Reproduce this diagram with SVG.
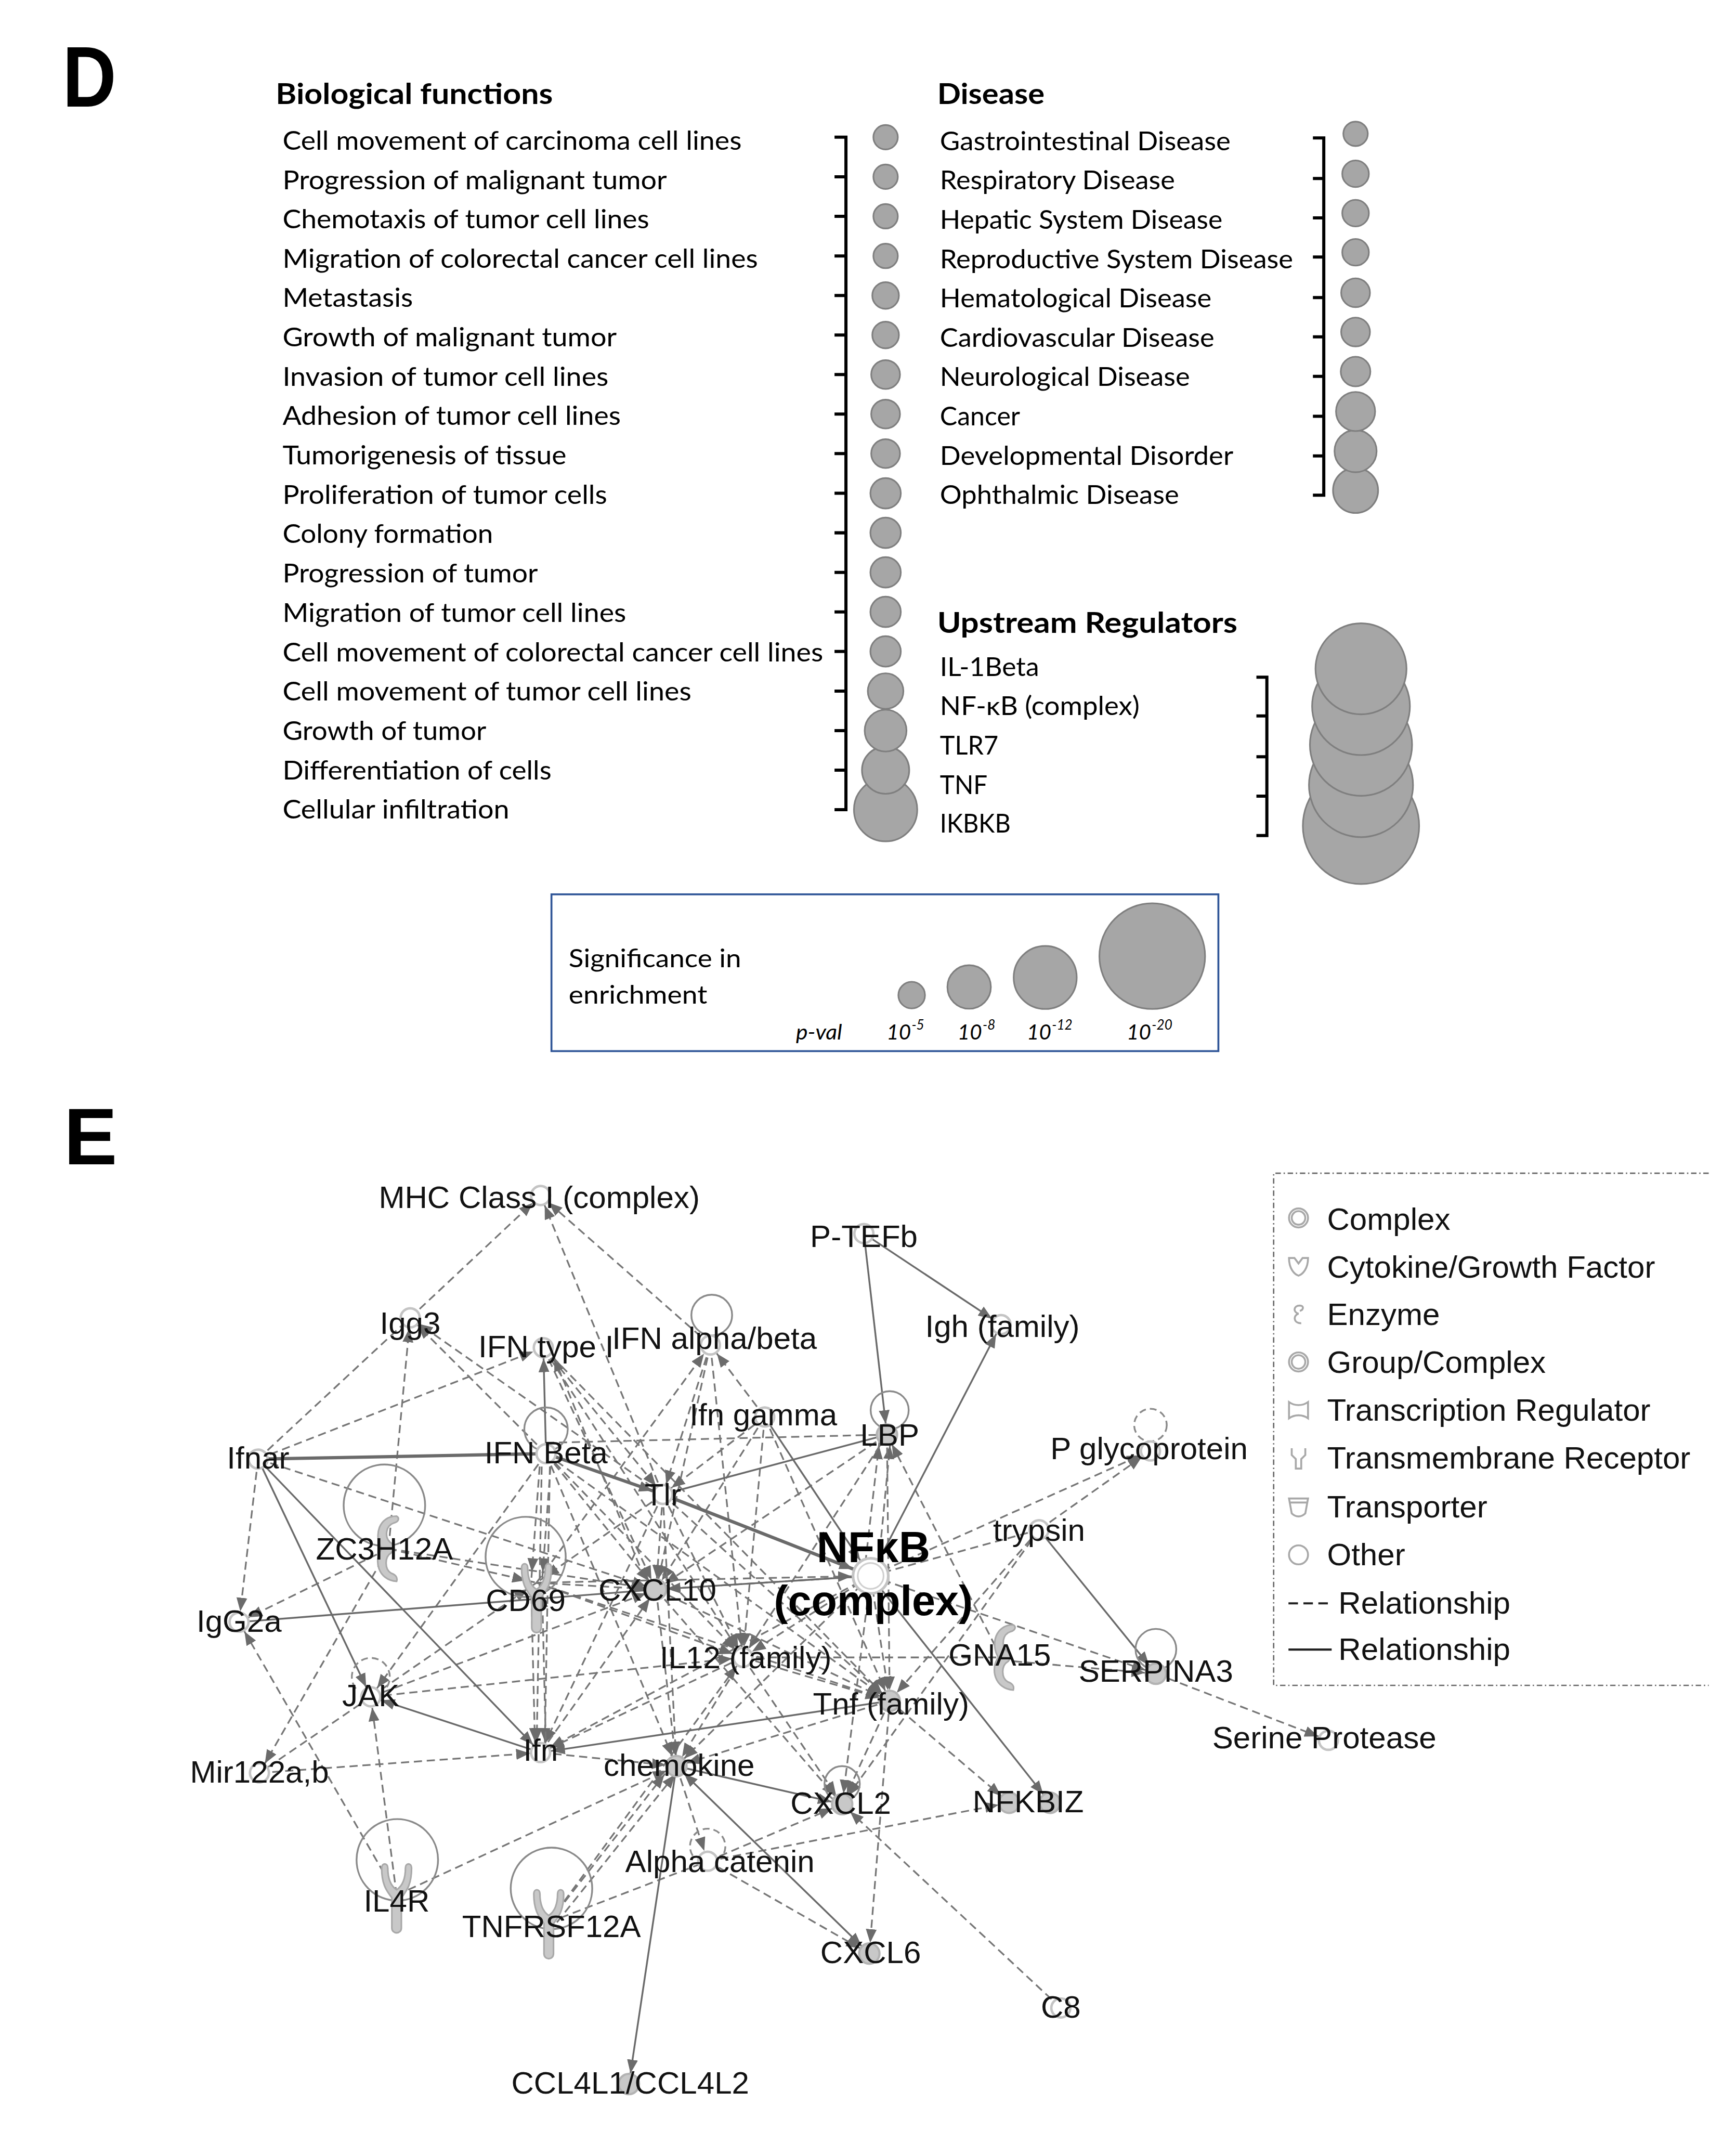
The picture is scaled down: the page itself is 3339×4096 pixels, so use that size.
<svg xmlns="http://www.w3.org/2000/svg" xmlns:xlink="http://www.w3.org/1999/xlink" width="3339" height="4096" viewBox="0 0 3339 4096">
<style>
.cal{font-family:Lato,"Open Sans",sans-serif;fill:#000}
.hd{font-family:Lato,"Open Sans",sans-serif;font-weight:700;font-size:21.5px;fill:#000}
.it{font-size:19.5px}
.pl{font-family:Lato,"Open Sans",sans-serif;font-style:italic;font-size:15.5px;fill:#000}
.dc{fill:#a6a6a6;stroke:#7f7f7f;stroke-width:1.2}
.br{fill:none;stroke:#000;stroke-width:2.3}
.d{fill:none;stroke:#767676;stroke-width:1.25;stroke-dasharray:6 3.5}
.s{fill:none;stroke:#6a6a6a;stroke-width:1.3}
.t{stroke-width:2.4}
.lp{fill:none;stroke:#8a8a8a;stroke-width:1.3}
.lpd{fill:none;stroke:#8a8a8a;stroke-width:1.3;stroke-dasharray:5 3}
.ic{fill:#fff;stroke:#c4c4c4;stroke-width:1.8}
.icg{fill:#c8c8c8;stroke:#b3b3b3;stroke-width:1.6}
.lb{font-family:"Liberation Sans",Arial,sans-serif;font-size:23px;fill:#111;text-anchor:middle}
.lg{font-family:"Liberation Sans",Arial,sans-serif;font-size:23px;fill:#111}
.li{fill:none;stroke:#a8a8a8;stroke-width:1.4}
.pn{font-family:"Liberation Sans",Arial,sans-serif;font-weight:700;fill:#000}
</style>
<defs>
<marker id="a" viewBox="0 0 10 8" refX="18" refY="4" markerWidth="10" markerHeight="8" markerUnits="userSpaceOnUse" orient="auto-start-reverse"><path d="M0,0L10,4L0,8z" fill="#6b6b6b"/></marker>
<marker id="an" viewBox="0 0 10 8" refX="24" refY="4" markerWidth="10" markerHeight="8" markerUnits="userSpaceOnUse" orient="auto"><path d="M0,0L10,4L0,8z" fill="#6b6b6b"/></marker>
<path id="yrec" d="M-11,-23 C-11,-9 -6,-5 -3.5,-1 L-3.5,21 C-3.5,26 3.5,26 3.5,21 L3.5,-1 C6,-5 11,-9 11,-23 C11,-27 6.5,-27 6.5,-23 C6.5,-13 3,-9 0,-7 C-3,-9 -6.5,-13 -6.5,-23 C-6.5,-27 -11,-27 -11,-23 Z" fill="#c8c8c8" stroke="#a9a9a9" stroke-width="1.2"/>
<path id="enz" d="M7,-24 C-6,-24 -10,-10 -4,0 C-10,8 -7,23 7,24 C8,21 6,19 3,18 C-2,15 -2,6 3,3 C6,0 5,-3 2,-5 C-2,-9 -1,-17 5,-19 C9,-20 9,-23 7,-24 Z" fill="#c8c8c8" stroke="#a9a9a9" stroke-width="1.2"/>
</defs>
<rect x="0" y="0" width="3339" height="4096" fill="#fff"/>
<g transform="scale(2.6125)">
<!-- ===== Panel D ===== -->
<g id="panel-D-label"><text class="pn" font-size="63" transform="translate(46,78.5) scale(0.87,1)">D</text></g>

<g id="bio-functions">
<text class="hd" x="203" y="76.5" textLength="204" lengthAdjust="spacingAndGlyphs">Biological functions</text>
<g class="cal it">
<text x="208" y="110.2" textLength="338" lengthAdjust="spacingAndGlyphs">Cell movement of carcinoma cell lines</text>
<text x="208" y="139.2" textLength="283" lengthAdjust="spacingAndGlyphs">Progression of malignant tumor</text>
<text x="208" y="168.1" textLength="270" lengthAdjust="spacingAndGlyphs">Chemotaxis of tumor cell lines</text>
<text x="208" y="197.1" textLength="350" lengthAdjust="spacingAndGlyphs">Migration of colorectal cancer cell lines</text>
<text x="208" y="226.0" textLength="96" lengthAdjust="spacingAndGlyphs">Metastasis</text>
<text x="208" y="255.0" textLength="246" lengthAdjust="spacingAndGlyphs">Growth of malignant tumor</text>
<text x="208" y="284.0" textLength="240" lengthAdjust="spacingAndGlyphs">Invasion of tumor cell lines</text>
<text x="208" y="312.9" textLength="249" lengthAdjust="spacingAndGlyphs">Adhesion of tumor cell lines</text>
<text x="208" y="341.9" textLength="209" lengthAdjust="spacingAndGlyphs">Tumorigenesis of tissue</text>
<text x="208" y="370.8" textLength="239" lengthAdjust="spacingAndGlyphs">Proliferation of tumor cells</text>
<text x="208" y="399.8" textLength="155" lengthAdjust="spacingAndGlyphs">Colony formation</text>
<text x="208" y="428.8" textLength="188" lengthAdjust="spacingAndGlyphs">Progression of tumor</text>
<text x="208" y="457.7" textLength="253" lengthAdjust="spacingAndGlyphs">Migration of tumor cell lines</text>
<text x="208" y="486.7" textLength="398" lengthAdjust="spacingAndGlyphs">Cell movement of colorectal cancer cell lines</text>
<text x="208" y="515.6" textLength="301" lengthAdjust="spacingAndGlyphs">Cell movement of tumor cell lines</text>
<text x="208" y="544.6" textLength="150" lengthAdjust="spacingAndGlyphs">Growth of tumor</text>
<text x="208" y="573.6" textLength="198" lengthAdjust="spacingAndGlyphs">Differentiation of cells</text>
<text x="208" y="602.5" textLength="167" lengthAdjust="spacingAndGlyphs">Cellular infiltration</text>
</g>
<path class="br" d="M614.4,101H622.8V596H614.4M614.4,130.1H622.8M614.4,159.2H622.8M614.4,188.4H622.8M614.4,217.5H622.8M614.4,246.6H622.8M614.4,275.7H622.8M614.4,304.8H622.8M614.4,333.9H622.8M614.4,363.1H622.8M614.4,392.2H622.8M614.4,421.3H622.8M614.4,450.4H622.8M614.4,479.5H622.8M614.4,508.7H622.8M614.4,537.8H622.8M614.4,566.9H622.8"/>
<g>
<circle class="dc" cx="652" cy="596" r="23.3"/>
<circle class="dc" cx="652" cy="566.9" r="17.4"/>
<circle class="dc" cx="652" cy="537.8" r="15.4"/>
<circle class="dc" cx="652" cy="508.7" r="13.1"/>
<circle class="dc" cx="652" cy="479.5" r="11.2"/>
<circle class="dc" cx="652" cy="450.4" r="11.2"/>
<circle class="dc" cx="652" cy="421.3" r="11.2"/>
<circle class="dc" cx="652" cy="392.2" r="11.2"/>
<circle class="dc" cx="652" cy="363.1" r="11.2"/>
<circle class="dc" cx="652" cy="333.9" r="10.6"/>
<circle class="dc" cx="652" cy="304.8" r="10.6"/>
<circle class="dc" cx="652" cy="275.7" r="10.6"/>
<circle class="dc" cx="652" cy="246.6" r="9.8"/>
<circle class="dc" cx="652" cy="217.5" r="9.8"/>
<circle class="dc" cx="652" cy="188.4" r="9"/>
<circle class="dc" cx="652" cy="159.2" r="9"/>
<circle class="dc" cx="652" cy="130.1" r="9"/>
<circle class="dc" cx="652" cy="101" r="9"/>
</g>
</g>

<g id="disease">
<text class="hd" x="690" y="76.5" textLength="79" lengthAdjust="spacingAndGlyphs">Disease</text>
<g class="cal it">
<text x="692" y="110.5" textLength="214" lengthAdjust="spacingAndGlyphs">Gastrointestinal Disease</text>
<text x="692" y="139.5" textLength="173" lengthAdjust="spacingAndGlyphs">Respiratory Disease</text>
<text x="692" y="168.4" textLength="208" lengthAdjust="spacingAndGlyphs">Hepatic System Disease</text>
<text x="692" y="197.4" textLength="260" lengthAdjust="spacingAndGlyphs">Reproductive System Disease</text>
<text x="692" y="226.3" textLength="200" lengthAdjust="spacingAndGlyphs">Hematological Disease</text>
<text x="692" y="255.2" textLength="202" lengthAdjust="spacingAndGlyphs">Cardiovascular Disease</text>
<text x="692" y="284.2" textLength="184" lengthAdjust="spacingAndGlyphs">Neurological Disease</text>
<text x="692" y="313.1" textLength="59" lengthAdjust="spacingAndGlyphs">Cancer</text>
<text x="692" y="342.1" textLength="216" lengthAdjust="spacingAndGlyphs">Developmental Disorder</text>
<text x="692" y="371.0" textLength="176" lengthAdjust="spacingAndGlyphs">Ophthalmic Disease</text>
</g>
<path class="br" d="M966.6,101.5H974.6V364.5H966.6M966.6,131.4H974.6M966.6,160.4H974.6M966.6,189.2H974.6M966.6,219H974.6M966.6,247.9H974.6M966.6,277H974.6M966.6,306.4H974.6M966.6,335.6H974.6"/>
<g>
<circle class="dc" cx="998" cy="361" r="16.6"/>
<circle class="dc" cx="998" cy="332.1" r="15.5"/>
<circle class="dc" cx="998" cy="302.9" r="14.4"/>
<circle class="dc" cx="998" cy="273.5" r="10.9"/>
<circle class="dc" cx="998" cy="244.4" r="10.6"/>
<circle class="dc" cx="998" cy="215.5" r="10.6"/>
<circle class="dc" cx="998" cy="185.7" r="9.8"/>
<circle class="dc" cx="998" cy="156.9" r="9.8"/>
<circle class="dc" cx="998" cy="127.9" r="9.8"/>
<circle class="dc" cx="998" cy="98.5" r="9"/>
</g>
</g>

<g id="upstream-regulators">
<text class="hd" x="690" y="466" textLength="221" lengthAdjust="spacingAndGlyphs">Upstream Regulators</text>
<g class="cal it">
<text x="692" y="497.5" textLength="73" lengthAdjust="spacingAndGlyphs">IL-1Beta</text>
<text x="692" y="526.5" textLength="147" lengthAdjust="spacingAndGlyphs">NF-κB (complex)</text>
<text x="692" y="555.5" textLength="43" lengthAdjust="spacingAndGlyphs">TLR7</text>
<text x="692" y="584.5" textLength="35" lengthAdjust="spacingAndGlyphs">TNF</text>
<text x="692" y="613" textLength="52" lengthAdjust="spacingAndGlyphs">IKBKB</text>
</g>
<path class="br" d="M925,498.5H932.7V615H925M925,527H932.7M925,557H932.7M925,586H932.7"/>
<g>
<circle class="dc" cx="1002" cy="607.9" r="42.8"/>
<circle class="dc" cx="1002" cy="577.9" r="38.3"/>
<circle class="dc" cx="1002" cy="548.2" r="37.6"/>
<circle class="dc" cx="1002" cy="519.8" r="36"/>
<circle class="dc" cx="1002" cy="492.3" r="33.5"/>
</g>
</g>

<g id="significance-legend">
<rect x="406" y="658.3" width="491" height="115.4" fill="#fff" stroke="#2f5597" stroke-width="1.4"/>
<text class="cal" font-size="18.5" x="418.7" y="712" textLength="127" lengthAdjust="spacingAndGlyphs">Significance in</text>
<text class="cal" font-size="18.5" x="418.7" y="738.6" textLength="102" lengthAdjust="spacingAndGlyphs">enrichment</text>
<circle class="dc" cx="671.2" cy="732.5" r="9.8"/>
<circle class="dc" cx="713.5" cy="726.5" r="16"/>
<circle class="dc" cx="769.5" cy="719.5" r="23.2"/>
<circle class="dc" cx="848.3" cy="703.8" r="38.9"/>
<text class="pl" x="586" y="765.3" textLength="34" lengthAdjust="spacingAndGlyphs">p-val</text>
<text class="pl" x="652.7" y="765.3">10<tspan font-size="10" dx="0.5" dy="-7.5">-5</tspan></text>
<text class="pl" x="705" y="765.3">10<tspan font-size="10" dx="0.5" dy="-7.5">-8</tspan></text>
<text class="pl" x="756" y="765.3">10<tspan font-size="10" dx="0.5" dy="-7.5">-12</tspan></text>
<text class="pl" x="829.5" y="765.3">10<tspan font-size="10" dx="0.5" dy="-7.5">-20</tspan></text>
</g>

<!-- ===== Panel E ===== -->
<g id="panel-E-label"><text class="pn" font-size="59" x="47" y="857">E</text></g>

<g id="connectors">
<g class="d" marker-end="url(#a)">
<line x1="302" y1="970" x2="398" y2="880"/>
<line x1="488" y1="1100" x2="398" y2="880"/>
<line x1="523" y1="990" x2="398" y2="880"/>
<line x1="286" y1="1140" x2="302" y2="970"/>
<line x1="402" y1="1070" x2="302" y2="970"/>
<line x1="488" y1="1100" x2="302" y2="970"/>
<line x1="190" y1="1074" x2="400" y2="992"/>
<line x1="400" y1="992" x2="488" y2="1100"/>
<line x1="400" y1="992" x2="483" y2="1170"/>
<line x1="400" y1="992" x2="547" y2="1220"/>
<line x1="478" y1="1170" x2="405" y2="992"/>
<line x1="400" y1="992" x2="655" y2="1252"/>
<line x1="523" y1="990" x2="488" y2="1100"/>
<line x1="523" y1="990" x2="483" y2="1170"/>
<line x1="523" y1="990" x2="547" y2="1220"/>
<line x1="395" y1="1165" x2="523" y2="990"/>
<line x1="563" y1="1043" x2="523" y2="990"/>
<line x1="563" y1="1043" x2="488" y2="1100"/>
<line x1="563" y1="1043" x2="483" y2="1170"/>
<line x1="563" y1="1043" x2="547" y2="1220"/>
<line x1="563" y1="1043" x2="655" y2="1252"/>
<line x1="402" y1="1070" x2="483" y2="1170"/>
<line x1="402" y1="1070" x2="547" y2="1220"/>
<line x1="398" y1="1070" x2="391" y2="1165"/>
<line x1="406" y1="1070" x2="399" y2="1165"/>
<line x1="399" y1="1070" x2="395" y2="1290"/>
<line x1="405" y1="1070" x2="401" y2="1290"/>
<line x1="402" y1="1070" x2="273" y2="1249"/>
<line x1="402" y1="1070" x2="655" y2="1252"/>
<line x1="402" y1="1070" x2="498" y2="1300"/>
<line x1="488" y1="1100" x2="483" y2="1170"/>
<line x1="488" y1="1100" x2="547" y2="1220"/>
<line x1="488" y1="1100" x2="498" y2="1300"/>
<line x1="488" y1="1100" x2="655" y2="1252"/>
<line x1="488" y1="1100" x2="398" y2="1290"/>
<line x1="488" y1="1100" x2="395" y2="1165"/>
<line x1="636" y1="1160" x2="648" y2="1056"/>
<line x1="646" y1="1160" x2="656" y2="1056"/>
<line x1="737" y1="1220" x2="653" y2="1056"/>
<line x1="653" y1="1056" x2="483" y2="1170"/>
<line x1="653" y1="1056" x2="547" y2="1220"/>
<line x1="653" y1="1056" x2="655" y2="1252"/>
<line x1="641" y1="1160" x2="847" y2="1068"/>
<line x1="765" y1="1126" x2="847" y2="1068"/>
<line x1="641" y1="1160" x2="851" y2="1232"/>
<line x1="737" y1="1222" x2="851" y2="1232"/>
<line x1="851" y1="1232" x2="978" y2="1281"/>
<line x1="641" y1="1160" x2="483" y2="1170"/>
<line x1="641" y1="1160" x2="547" y2="1220"/>
<line x1="641" y1="1160" x2="655" y2="1252"/>
<line x1="641" y1="1160" x2="620" y2="1328"/>
<line x1="641" y1="1160" x2="498" y2="1300"/>
<line x1="641" y1="1160" x2="398" y2="1290"/>
<line x1="765" y1="1126" x2="655" y2="1252"/>
<line x1="765" y1="1126" x2="620" y2="1328"/>
<line x1="655" y1="1252" x2="743" y2="1327"/>
<line x1="655" y1="1252" x2="640" y2="1438"/>
<line x1="655" y1="1252" x2="620" y2="1328"/>
<line x1="655" y1="1252" x2="498" y2="1300"/>
<line x1="547" y1="1220" x2="498" y2="1300"/>
<line x1="547" y1="1220" x2="398" y2="1290"/>
<line x1="547" y1="1220" x2="620" y2="1328"/>
<line x1="547" y1="1220" x2="655" y2="1252"/>
<line x1="190" y1="1074" x2="176" y2="1194"/>
<line x1="190" y1="1074" x2="483" y2="1170"/>
<line x1="286" y1="1140" x2="176" y2="1194"/>
<line x1="286" y1="1140" x2="191" y2="1305"/>
<line x1="286" y1="1140" x2="483" y2="1170"/>
<line x1="286" y1="1140" x2="395" y2="1165"/>
<line x1="292" y1="1395" x2="176" y2="1194"/>
<line x1="191" y1="1305" x2="398" y2="1290"/>
<line x1="292" y1="1395" x2="273" y2="1249"/>
<line x1="273" y1="1249" x2="395" y2="1165"/>
<line x1="273" y1="1249" x2="483" y2="1170"/>
<line x1="273" y1="1249" x2="547" y2="1220"/>
<line x1="391" y1="1165" x2="394" y2="1290"/>
<line x1="402" y1="1290" x2="399" y2="1165"/>
<line x1="395" y1="1165" x2="483" y2="1170"/>
<line x1="395" y1="1165" x2="547" y2="1220"/>
<line x1="395" y1="1165" x2="655" y2="1252"/>
<line x1="398" y1="1290" x2="498" y2="1300"/>
<line x1="398" y1="1290" x2="483" y2="1170"/>
<line x1="292" y1="1395" x2="498" y2="1300"/>
<line x1="404" y1="1415" x2="494" y2="1300"/>
<line x1="410" y1="1415" x2="502" y2="1300"/>
<line x1="404" y1="1415" x2="547" y2="1220"/>
<line x1="521" y1="1370" x2="640" y2="1438"/>
<line x1="521" y1="1370" x2="743" y2="1327"/>
<line x1="521" y1="1370" x2="620" y2="1328"/>
<line x1="498" y1="1300" x2="521" y2="1370"/>
<line x1="781" y1="1478" x2="620" y2="1328"/>
<line x1="483" y1="1170" x2="498" y2="1300"/>
<line x1="483" y1="1170" x2="620" y2="1328"/>
<line x1="483" y1="1170" x2="655" y2="1252"/>
</g>
<g class="d">
<line x1="402" y1="1062" x2="653" y2="1056"/>
<line x1="641" y1="1160" x2="765" y2="1126"/>
<line x1="547" y1="1220" x2="737" y2="1220"/>
<line x1="273" y1="1249" x2="191" y2="1305"/>
<line x1="190" y1="1074" x2="302" y2="970"/>
<line x1="404" y1="1415" x2="521" y2="1370"/>
</g>
<line class="d" x1="395" y1="1165" x2="641" y2="1160" marker-end="url(#an)"/>
<g class="s" marker-end="url(#a)">
<line x1="636" y1="908" x2="653" y2="1056"/>
<line x1="636" y1="908" x2="737" y2="975"/>
<line x1="641" y1="1160" x2="737" y2="975"/>
<line x1="402" y1="1070" x2="400" y2="992"/>
<line class="t" x1="402" y1="1070" x2="488" y2="1100"/>
<line x1="765" y1="1126" x2="851" y2="1232"/>
<line x1="641" y1="1160" x2="773" y2="1327"/>
<line x1="190" y1="1074" x2="273" y2="1249"/>
<line x1="190" y1="1074" x2="398" y2="1290"/>
<line x1="398" y1="1290" x2="273" y2="1249"/>
<line x1="498" y1="1300" x2="620" y2="1328"/>
<line x1="498" y1="1300" x2="463" y2="1534"/>
<line x1="655" y1="1252" x2="398" y2="1290"/>
<line x1="640" y1="1438" x2="498" y2="1300" marker-start="url(#a)"/>
</g>
<line class="s t" x1="488" y1="1100" x2="641" y2="1160" marker-end="url(#an)"/>
<line class="s" x1="563" y1="1043" x2="641" y2="1160" marker-end="url(#an)"/>
<g class="s">
<line class="t" x1="190" y1="1074" x2="402" y2="1070"/>
<line x1="653" y1="1056" x2="488" y2="1100"/>
<line x1="483" y1="1170" x2="641" y2="1160"/>
<line x1="176" y1="1194" x2="483" y2="1170"/>
</g>
</g>

<g id="self-loops">
<circle class="lp" cx="524" cy="968" r="15"/>
<circle class="lp" cx="402" cy="1052" r="16"/>
<circle class="lp" cx="655" cy="1038" r="14"/>
<circle class="lpd" cx="847" cy="1049" r="12"/>
<circle class="lp" cx="283" cy="1108" r="30"/>
<circle class="lp" cx="387" cy="1146" r="29.5"/>
<circle class="lp" cx="851" cy="1214" r="15"/>
<path class="lpd" d="M262,1243 A14,14 0 1 1 284,1243"/>
<circle class="lp" cx="620" cy="1313" r="13"/>
<path class="lpd" d="M510,1366 A13,13 0 1 1 532,1366"/>
<circle class="lp" cx="292.5" cy="1369" r="30"/>
<circle class="lp" cx="406" cy="1390" r="30"/>
</g>

<g id="node-mhc"><circle class="ic" cx="398" cy="880" r="7"/><text class="lb" x="397" y="889">MHC Class I (complex)</text></g>
<g id="node-ptefb"><circle class="ic" cx="636" cy="908" r="7"/><text class="lb" x="636" y="918">P-TEFb</text></g>
<g id="node-igh"><circle class="ic" cx="737" cy="975" r="7"/><text class="lb" x="738" y="984">Igh (family)</text></g>
<g id="node-igg3"><circle class="ic" cx="302" cy="970" r="7"/><text class="lb" x="302" y="982">Igg3</text></g>
<g id="node-ifn-type-i"><circle class="ic" cx="400" cy="992" r="7"/><text class="lb" x="402" y="999">IFN type I</text></g>
<g id="node-ifn-alpha-beta"><circle class="ic" cx="523" cy="990" r="7"/><text class="lb" x="526" y="993">IFN alpha/beta</text></g>
<g id="node-ifn-gamma"><circle class="ic" cx="563" cy="1043" r="7"/><text class="lb" x="562" y="1049">Ifn gamma</text></g>
<g id="node-lbp"><circle class="icg" cx="653" cy="1056" r="7.5"/><text class="lb" x="655" y="1064">LBP</text></g>
<g id="node-p-glycoprotein"><circle class="ic" cx="847" cy="1068" r="7"/><text class="lb" x="846" y="1074">P glycoprotein</text></g>
<g id="node-ifnar"><circle class="ic" cx="190" cy="1074" r="7"/><text class="lb" x="190" y="1081">Ifnar</text></g>
<g id="node-ifn-beta"><circle class="ic" cx="402" cy="1070" r="7"/><text class="lb" x="402" y="1077">IFN Beta</text></g>
<g id="node-tlr"><circle class="ic" cx="488" cy="1100" r="7"/><text class="lb" x="488" y="1108">Tlr</text></g>
<g id="node-zc3h12a"><use href="#enz" x="285" y="1140"/><text class="lb" x="283" y="1148">ZC3H12A</text></g>
<g id="node-trypsin"><circle class="ic" cx="765" cy="1126" r="7"/><text class="lb" x="765" y="1134">trypsin</text></g>
<g id="node-cd69"><use href="#yrec" x="395" y="1177"/><text class="lb" x="387" y="1186">CD69</text></g>
<g id="node-cxcl10"><circle class="icg" cx="483" cy="1170" r="7.5"/><text class="lb" x="484" y="1178">CXCL10</text></g>
<g id="node-nfkb"><circle cx="641" cy="1160" r="13" fill="#fff" stroke="#c4c4c4" stroke-width="2"/><circle cx="641" cy="1160" r="9.5" fill="none" stroke="#d0d0d0" stroke-width="1.2"/><text class="pn" font-size="32" x="643" y="1150" text-anchor="middle">NFκB</text><text class="pn" font-size="31" x="643" y="1189" text-anchor="middle">(complex)</text></g>
<g id="node-igg2a"><circle class="ic" cx="176" cy="1194" r="7"/><text class="lb" x="176" y="1201">IgG2a</text></g>
<g id="node-il12"><circle class="ic" cx="547" cy="1220" r="7"/><text class="lb" x="549" y="1228">IL12 (family)</text></g>
<g id="node-gna15"><use href="#enz" x="739" y="1220"/><text class="lb" x="736" y="1226">GNA15</text></g>
<g id="node-serpina3"><circle class="icg" cx="851" cy="1232" r="7.5"/><text class="lb" x="851" y="1238">SERPINA3</text></g>
<g id="node-jak"><circle class="ic" cx="273" cy="1249" r="7"/><text class="lb" x="273" y="1256">JAK</text></g>
<g id="node-tnf"><circle class="icg" cx="655" cy="1252" r="7.5"/><text class="lb" x="656" y="1262">Tnf (family)</text></g>
<g id="node-ifn"><circle class="ic" cx="398" cy="1290" r="7"/><text class="lb" x="398" y="1296">Ifn</text></g>
<g id="node-serine-protease"><circle class="ic" cx="978" cy="1281" r="7"/><text class="lb" x="975" y="1287">Serine Protease</text></g>
<g id="node-chemokine"><circle class="icg" cx="498" cy="1300" r="7.5"/><text class="lb" x="500" y="1307">chemokine</text></g>
<g id="node-mir122"><circle class="ic" cx="191" cy="1305" r="7"/><text class="lb" x="191" y="1312">Mir122a,b</text></g>
<g id="node-cxcl2"><circle class="icg" cx="620" cy="1328" r="7.5"/><text class="lb" x="619" y="1335">CXCL2</text></g>
<g id="node-nfkbiz"><circle class="icg" cx="743" cy="1327" r="7.5"/><circle class="icg" cx="773" cy="1327" r="7.5"/><text class="lb" x="757" y="1334">NFKBIZ</text></g>
<g id="node-alpha-catenin"><circle class="ic" cx="521" cy="1370" r="7"/><text class="lb" x="530" y="1378">Alpha catenin</text></g>
<g id="node-il4r"><use href="#yrec" x="292" y="1398"/><text class="lb" x="292" y="1407">IL4R</text></g>
<g id="node-tnfrsf12a"><use href="#yrec" x="404" y="1417"/><text class="lb" x="406" y="1426">TNFRSF12A</text></g>
<g id="node-cxcl6"><circle class="icg" cx="640" cy="1438" r="7.5"/><text class="lb" x="641" y="1445">CXCL6</text></g>
<g id="node-c8"><circle class="ic" cx="781" cy="1478" r="7"/><text class="lb" x="781" y="1485">C8</text></g>
<g id="node-ccl4l1"><circle class="icg" cx="463" cy="1534" r="7.5"/><text class="lb" x="464" y="1541">CCL4L1/CCL4L2</text></g>

<g id="network-legend">
<path d="M1258,863.6H937.7V1240.6H1258" fill="none" stroke="#666" stroke-width="1" stroke-dasharray="4 2 1 2"/>
<circle class="li" cx="956" cy="896.5" r="7"/><circle class="li" cx="956" cy="896.5" r="5"/>
<path class="li" d="M949,926 L953,926 L956,930 L959,926 L963,926 C963,934 959,938 956,939 C953,938 949,934 949,926 Z"/>
<path class="li" d="M957,961 C952,961 952,966 956,967 C952,968 952,974 958,974 M957,961 C960,961 960,964 957,965"/>
<circle class="li" cx="956" cy="1002.5" r="7"/><circle class="li" cx="956" cy="1002.5" r="5"/>
<path class="li" d="M949,1032 C953,1035 959,1035 963,1032 L963,1044 C959,1041 953,1041 949,1044 Z"/>
<path class="li" d="M951,1066 L951,1071 L954,1074 L954,1081 L958,1081 L958,1074 L961,1071 L961,1066"/>
<path class="li" d="M949,1103 L963,1103 L961,1114 C958,1117 954,1117 951,1114 Z M950,1106 L962,1106"/>
<circle class="li" cx="956" cy="1144.5" r="7"/>
<g class="lg">
<text x="977" y="905.2">Complex</text>
<text x="977" y="940.3">Cytokine/Growth Factor</text>
<text x="977" y="975.5">Enzyme</text>
<text x="977" y="1010.6">Group/Complex</text>
<text x="977" y="1045.8">Transcription Regulator</text>
<text x="977" y="1081">Transmembrane Receptor</text>
<text x="977" y="1116.9">Transporter</text>
<text x="977" y="1152">Other</text>
<text x="985.4" y="1187.8">Relationship</text>
<text x="985.4" y="1221.7">Relationship</text>
</g>
<line x1="948.6" y1="1180.2" x2="980.4" y2="1180.2" stroke="#222" stroke-width="1.6" stroke-dasharray="7 4"/>
<line x1="948.6" y1="1214.2" x2="980.4" y2="1214.2" stroke="#222" stroke-width="1.6"/>
</g>
</g>
</svg>
